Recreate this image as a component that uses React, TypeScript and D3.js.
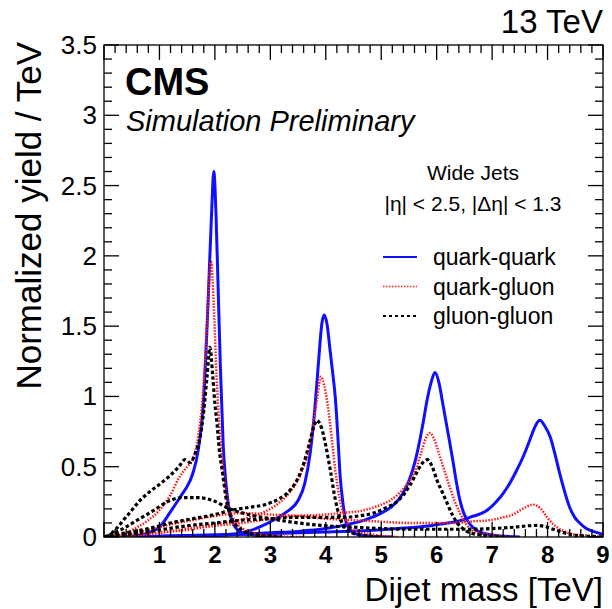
import React from "react";
import * as d3 from "d3";

type Pt = [number, number];

// Resonance line shapes at 2, 4, 6 and 8 TeV: [dijet mass (TeV), normalized yield / TeV]
const qq2: Pt[] = [[0.3,0],[0.6,0.01],[0.8,0.03],[1.0,0.07],[1.2,0.18],[1.4,0.3],[1.5,0.36],[1.6,0.45],[1.7,0.62],[1.8,1.0],[1.88,1.7],[1.94,2.3],[1.98,2.6],[2.02,2.3],[2.06,1.75],[2.1,1.2],[2.15,0.65],[2.2,0.38],[2.27,0.17],[2.35,0.08],[2.5,0.03],[2.8,0.01],[3.2,0]];
const qq4: Pt[] = [[1.5,0],[2.0,0.01],[2.5,0.03],[2.8,0.07],[3.1,0.13],[3.3,0.18],[3.5,0.26],[3.62,0.38],[3.72,0.6],[3.8,0.9],[3.87,1.25],[3.93,1.52],[3.97,1.58],[4.02,1.52],[4.08,1.32],[4.13,1.15],[4.17,1.0],[4.22,0.7],[4.26,0.43],[4.31,0.24],[4.35,0.13],[4.42,0.06],[4.55,0.02],[4.8,0.005],[5.2,0]];
const qq6: Pt[] = [[0.5,0],[1.5,0.01],[2.5,0.02],[3.0,0.03],[3.5,0.04],[4.0,0.06],[4.4,0.09],[4.7,0.12],[5.0,0.17],[5.2,0.22],[5.39,0.31],[5.5,0.4],[5.57,0.48],[5.66,0.62],[5.75,0.8],[5.83,0.98],[5.9,1.1],[5.97,1.17],[6.04,1.1],[6.11,0.95],[6.2,0.75],[6.29,0.55],[6.36,0.38],[6.42,0.26],[6.48,0.18],[6.55,0.12],[6.65,0.07],[6.75,0.04],[7.0,0.015],[7.5,0]];
const qq8: Pt[] = [[0.5,0],[1.0,0.005],[2.0,0.015],[3.0,0.025],[4.0,0.035],[4.7,0.045],[5.3,0.06],[5.88,0.08],[6.2,0.1],[6.37,0.11],[6.6,0.14],[6.91,0.19],[7.05,0.24],[7.2,0.31],[7.33,0.39],[7.45,0.48],[7.57,0.58],[7.68,0.69],[7.78,0.79],[7.86,0.83],[7.95,0.79],[8.05,0.71],[8.14,0.58],[8.22,0.45],[8.31,0.32],[8.4,0.21],[8.49,0.14],[8.58,0.1],[8.7,0.06],[8.82,0.04],[9.0,0.02]];

const qg2: Pt[] = [[0.1,0],[0.4,0.03],[0.6,0.07],[0.8,0.12],[1.0,0.19],[1.2,0.3],[1.35,0.42],[1.5,0.5],[1.6,0.55],[1.7,0.72],[1.78,1.0],[1.85,1.45],[1.93,1.96],[1.98,1.65],[2.03,1.15],[2.08,0.8],[2.12,0.6],[2.18,0.38],[2.25,0.22],[2.35,0.12],[2.5,0.06],[2.8,0.02],[3.2,0.005],[3.6,0]];
const qg4: Pt[] = [[0,0],[0.5,0.01],[1.0,0.03],[1.5,0.06],[2.0,0.09],[2.3,0.11],[2.63,0.14],[2.9,0.18],[3.15,0.24],[3.35,0.32],[3.55,0.45],[3.68,0.6],[3.78,0.82],[3.85,1.0],[3.91,1.14],[3.97,1.08],[4.03,0.95],[4.08,0.8],[4.13,0.62],[4.17,0.48],[4.22,0.34],[4.28,0.22],[4.38,0.11],[4.5,0.05],[4.8,0.02],[5.3,0]];
const qg6: Pt[] = [[0,0],[0.5,0.01],[1.0,0.03],[1.5,0.05],[2.0,0.08],[2.5,0.1],[3.0,0.13],[3.5,0.15],[4.0,0.16],[4.26,0.17],[4.68,0.19],[5.0,0.23],[5.16,0.26],[5.32,0.31],[5.46,0.37],[5.56,0.43],[5.64,0.5],[5.72,0.6],[5.8,0.7],[5.88,0.74],[5.95,0.7],[6.06,0.57],[6.15,0.46],[6.24,0.35],[6.33,0.25],[6.42,0.17],[6.5,0.11],[6.6,0.06],[6.75,0.03],[6.9,0.02],[7.3,0]];
const qg8: Pt[] = [[0,0],[0.4,0.02],[0.8,0.05],[1.2,0.09],[1.6,0.12],[2.0,0.15],[2.5,0.17],[3.0,0.16],[3.5,0.15],[4.0,0.13],[4.5,0.12],[4.95,0.11],[5.5,0.1],[5.9,0.1],[6.3,0.1],[6.6,0.11],[6.96,0.12],[7.2,0.14],[7.38,0.16],[7.55,0.2],[7.74,0.23],[7.88,0.2],[7.99,0.14],[8.08,0.1],[8.17,0.07],[8.3,0.04],[8.45,0.02],[8.7,0.01],[9,0]];

const gg2: Pt[] = [[0.05,0],[0.2,0.05],[0.35,0.12],[0.5,0.19],[0.65,0.26],[0.85,0.33],[1.05,0.39],[1.2,0.44],[1.35,0.5],[1.46,0.55],[1.55,0.53],[1.65,0.6],[1.73,0.7],[1.8,0.9],[1.86,1.15],[1.91,1.35],[1.96,1.15],[2.0,0.95],[2.04,0.8],[2.08,0.62],[2.14,0.45],[2.2,0.28],[2.3,0.13],[2.45,0.06],[2.7,0.02],[3.2,0]];
const gg4: Pt[] = [[0,0],[0.4,0.03],[0.8,0.06],[1.2,0.1],[1.6,0.13],[2.0,0.16],[2.3,0.19],[2.6,0.21],[2.9,0.23],[3.15,0.27],[3.35,0.33],[3.5,0.42],[3.6,0.52],[3.7,0.66],[3.78,0.78],[3.84,0.83],[3.92,0.78],[4.0,0.65],[4.08,0.48],[4.17,0.27],[4.26,0.13],[4.36,0.06],[4.55,0.02],[5.0,0]];
const gg6: Pt[] = [[0,0],[0.5,0.02],[1.0,0.05],[1.5,0.08],[2.0,0.1],[2.5,0.12],[3.0,0.13],[3.5,0.14],[4.0,0.14],[4.26,0.14],[4.6,0.15],[4.86,0.17],[5.1,0.21],[5.28,0.25],[5.42,0.31],[5.52,0.37],[5.63,0.45],[5.73,0.52],[5.83,0.55],[5.92,0.5],[6.0,0.41],[6.1,0.32],[6.19,0.24],[6.28,0.16],[6.37,0.1],[6.47,0.06],[6.6,0.03],[6.9,0.01],[7.3,0]];
const gg8: Pt[] = [[0,0],[0.3,0.05],[0.6,0.12],[0.9,0.19],[1.14,0.25],[1.4,0.28],[1.7,0.28],[1.96,0.26],[2.27,0.2],[2.6,0.16],[3.0,0.13],[3.5,0.1],[4.0,0.08],[4.5,0.07],[5.0,0.06],[5.5,0.055],[6.0,0.055],[6.5,0.055],[7.0,0.06],[7.4,0.07],[7.65,0.08],[7.8,0.082],[7.95,0.075],[8.1,0.055],[8.3,0.03],[8.5,0.012],[8.8,0.004],[9.0,0]];

const xTicks = [1, 2, 3, 4, 5, 6, 7, 8, 9];
const yTicks = [0, 0.5, 1, 1.5, 2, 2.5, 3, 3.5];
const yTickLabels = ["0", "0.5", "1", "1.5", "2", "2.5", "3", "3.5"];

const legendLabels = ["quark-quark", "quark-gluon", "gluon-gluon"];

const W = 612, H = 609;
const left = 104, right = 603, top = 45, bottom = 537;
const FONT = "'Liberation Sans', Arial, Helvetica, sans-serif";

const styles = {
  qq: { stroke: "#1010ff", width: 3, dash: undefined as string | undefined },
  qg: { stroke: "#ff1a1a", width: 2.5, dash: "1.5 1.5" },
  gg: { stroke: "#000000", width: 3.2, dash: "3.5 2.5" },
};

const legendStyles = {
  qq: { width: 2, dash: undefined as string | undefined },
  qg: { width: 1.5, dash: "1.5 1.5" },
  gg: { width: 2, dash: "3 3" },
};

export default function App() {
  const x = d3.scaleLinear().domain([0, 9]).range([left, right]);
  const y = d3.scaleLinear().domain([0, 3.5]).range([bottom, top]);
  const line = d3
    .line<Pt>()
    .x((d) => x(d[0]))
    .y((d) => y(d[1]))
    .curve(d3.curveMonotoneX);

  const groups: { key: keyof typeof styles; curves: Pt[][] }[] = [
    { key: "qq", curves: [qq2, qq4, qq6, qq8] },
    { key: "qg", curves: [qg2, qg4, qg6, qg8] },
    { key: "gg", curves: [gg2, gg4, gg6, gg8] },
  ];

  const xMinor = d3.range(0, 9.0001, 0.2);
  const yMinor = d3.range(0, 3.5001, 0.1);
  const isMajor = (v: number, step: number) => Math.abs(v / step - Math.round(v / step)) < 1e-6;

  const majLen = 15, minLen = 8;

  return (
    <svg width={W} height={H} style={{ position: "absolute", left: 0, top: 0, background: "#fff" }} fontFamily={FONT}>
      <defs>
        <clipPath id="plotClip">
          <rect x={left} y={top} width={right - left} height={bottom - top} />
        </clipPath>
      </defs>

      {/* curves */}
      <g clipPath="url(#plotClip)" fill="none">
        {groups.map((g) =>
          g.curves.map((c, i) => (
            <path
              key={g.key + i}
              d={line(c) ?? ""}
              stroke={styles[g.key].stroke}
              strokeWidth={styles[g.key].width}
              strokeDasharray={styles[g.key].dash}
              strokeLinejoin="round"
            />
          ))
        )}
      </g>

      {/* frame and ticks */}
      <g stroke="#000" strokeWidth={1.3}>
        <rect x={left} y={top} width={right - left} height={bottom - top} fill="none" />
        {xMinor.map((v, i) => {
          const len = isMajor(v, 1) ? majLen : minLen;
          return (
            <g key={"xt" + i}>
              <line x1={x(v)} x2={x(v)} y1={bottom} y2={bottom - len} />
              <line x1={x(v)} x2={x(v)} y1={top} y2={top + len} />
            </g>
          );
        })}
        {yMinor.map((v, i) => {
          const len = isMajor(v, 0.5) ? majLen : minLen;
          return (
            <g key={"yt" + i}>
              <line x1={left} x2={left + len} y1={y(v)} y2={y(v)} />
              <line x1={right} x2={right - len} y1={y(v)} y2={y(v)} />
            </g>
          );
        })}
      </g>

      {/* tick labels */}
      <g fontSize={24} fontWeight="bold" textAnchor="middle" fill="#000">
        {xTicks.map((t) => (
          <text key={"xl" + t} x={x(t)} y={563}>
            {t}
          </text>
        ))}
      </g>
      <g fontSize={26} textAnchor="end" fill="#000">
        {yTicks.map((t, i) => (
          <text key={"yl" + t} x={97} y={y(t) + 9}>
            {yTickLabels[i]}
          </text>
        ))}
      </g>

      {/* axis titles */}
      <text x={right} y={601} fontSize={33} textAnchor="end">
        Dijet mass [TeV]
      </text>
      <text transform={`translate(${41},${top - 3}) rotate(-90)`} fontSize={35} textAnchor="end">
        Normalized yield / TeV
      </text>

      {/* header */}
      <text x={right} y={33} fontSize={33} textAnchor="end">
        13 TeV
      </text>
      <text x={125} y={95} fontSize={38} fontWeight="bold">
        CMS
      </text>
      <text x={126} y={131} fontSize={29} fontStyle="italic">
        Simulation Preliminary
      </text>

      {/* legend */}
      <text x={473} y={180} fontSize={21} textAnchor="middle">
        Wide Jets
      </text>
      <text x={473} y={211} fontSize={21} textAnchor="middle">
        |η| &lt; 2.5, |Δη| &lt; 1.3
      </text>
      {legendLabels.map((lab, i) => {
        const key = (["qq", "qg", "gg"] as const)[i];
        const ly = 257 + i * 29.5;
        return (
          <g key={lab}>
            <line
              x1={383}
              x2={417}
              y1={ly}
              y2={ly}
              stroke={styles[key].stroke}
              strokeWidth={legendStyles[key].width}
              strokeDasharray={legendStyles[key].dash}
            />
            <text x={433} y={ly + 8} fontSize={23}>
              {lab}
            </text>
          </g>
        );
      })}
    </svg>
  );
}
